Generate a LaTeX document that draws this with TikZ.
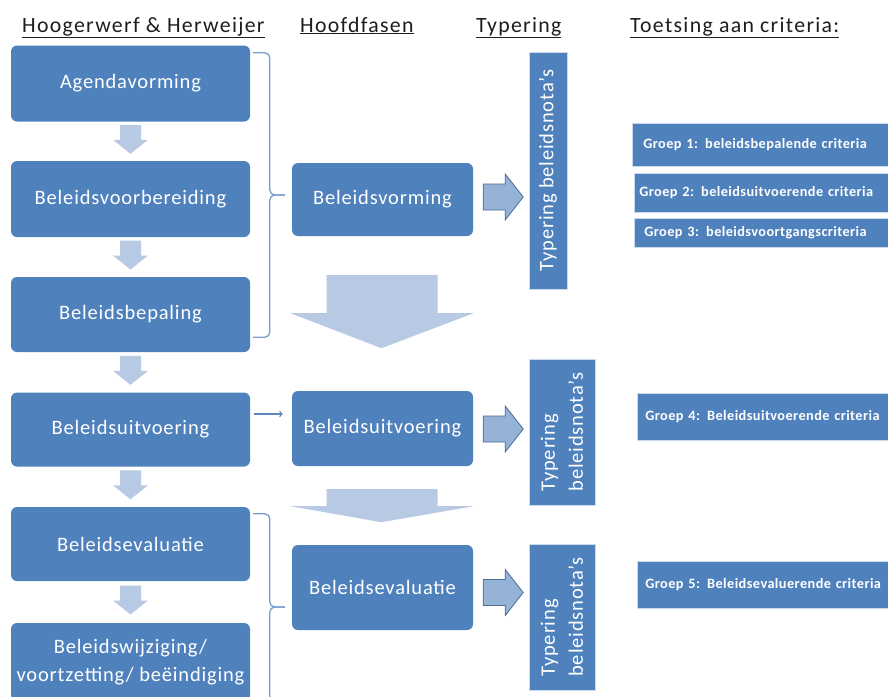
\documentclass[tikz,border=0pt]{standalone}
\usepackage{fontspec}
\setmainfont{Carlito}
\newfontfamily\hdrfam[LetterSpace=6]{Carlito}
\newfontfamily\boxfam[LetterSpace=4]{Carlito}
\newfontfamily\critfam[LetterSpace=3]{Carlito}
\usetikzlibrary{calc}
\definecolor{boxblue}{RGB}{79,129,189}
\definecolor{lightarr}{RGB}{183,201,227}
\definecolor{arrfill}{RGB}{149,179,215}
\definecolor{arrdraw}{RGB}{78,106,150}
\definecolor{brk}{RGB}{120,158,208}
\definecolor{thinarr}{RGB}{95,135,190}
\definecolor{hdrcol}{RGB}{30,30,30}
\newcommand\hdrfont{\hdrfam\fontsize{21.8}{25}\selectfont}
\newcommand\bxfont{\boxfam\fontsize{20.5}{28}\selectfont}
\newcommand\crfont{\critfam\bfseries\fontsize{14.3}{16}\selectfont}
\begin{document}
\begin{tikzpicture}[x=1pt,y=-1pt,
  stage/.style={fill=boxblue, rounded corners=6pt, text=white, align=center,
    font=\bxfont, inner sep=0pt, minimum width=239pt},
  midstage/.style={stage, minimum width=181pt},
  typbox/.style={fill=boxblue, draw=white!70!boxblue, line width=0.6pt, text=white,
    font=\bxfont, inner sep=0pt, rotate=90, align=left},
  crit/.style={fill=boxblue, draw=white!70!boxblue, line width=0.6pt, text=white,
    font=\crfont, anchor=west, text width=262pt, align=left, inner ysep=0pt},
  hdr/.style={anchor=base west, font=\hdrfont, text=hdrcol, inner sep=0pt},
  brace/.style={draw=brk, line width=1.3pt, rounded corners=5pt},
  darr/.pic={\fill[lightarr] (-10.5,-14.5) -- (10.5,-14.5) -- (10.5,0.5) -- (17.5,0.5)
     -- (0,14.5) -- (-17.5,0.5) -- (-10.5,0.5) -- cycle;},
  rarr/.pic={\draw[fill=arrfill, draw=arrdraw, line width=0.8pt, line join=miter]
     (-20,-13) -- (2,-13) -- (2,-23) -- (20,0) -- (2,23) -- (2,13) -- (-20,13) -- cycle;}
]
\clip (0,0) rectangle (888,696);
\fill[white] (0,0) rectangle (888,696);

% headers
\node[hdr] (h1) at (22,32) {\underline{Hoogerwerf \& Herweijer}};
\node[hdr] (h2) at (300,32) {\underline{Hoofdfasen}};
\node[hdr] (h3) at (476,32) {\underline{Typering}};
\node[hdr] (h4) at (630,32) {\underline{Toetsing aan criteria:}};

% left column
\node[stage, minimum height=76pt] (agenda) at (130.5,83.5) {Agendavorming};
\node[stage, minimum height=76pt] (voorb) at (130.5,199) {Beleidsvoorbereiding};
\node[stage, minimum height=75pt] (bepal) at (130.5,314.5) {Beleidsbepaling};
\node[stage, minimum height=74pt] (uitvL) at (130.5,429.5) {Beleidsuitvoering};
\node[stage, minimum height=74pt] (evalL) at (130.5,544) {Beleidsevaluatie};
\node[stage, minimum height=78pt] (wijz) at (130.5,662) {Beleidswijziging/\\voortzetting/ beëindiging};

\pic at ($(agenda.south)!0.5!(voorb.north)+(0,-2)$) {darr};
\pic at ($(voorb.south)!0.5!(bepal.north)+(0,-2)$) {darr};
\pic at ($(bepal.south)!0.5!(uitvL.north)+(0,-2)$) {darr};
\pic at ($(uitvL.south)!0.5!(evalL.north)+(0,-2)$) {darr};
\pic at ($(evalL.south)!0.5!(wijz.north)+(0,-2)$) {darr};

% middle column
\node[midstage, minimum height=73pt] (vorm) at (382.5,199.5) {Beleidsvorming};
\node[midstage, minimum height=75pt] (uitvM) at (382.5,428.5) {Beleidsuitvoering};
\node[midstage, minimum height=85pt] (evalM) at (382.5,587.5) {Beleidsevaluatie};

% braces
\coordinate (b1t) at ($(agenda.north east)+(3,7.5)$);
\coordinate (b1b) at ($(bepal.south east)+(3,-15)$);
\coordinate (b1m) at ($(vorm.west)+(-7,-4.5)$);
\draw[brace] (b1t) -| ($(b1m)+(-15,0)$) -- (b1m);
\draw[brace] (b1b) -| ($(b1m)+(-15,0)$) -- (b1m);
\coordinate (b2t) at ($(evalL.north east)+(3,7)$);
\coordinate (b2b) at ($(wijz.south east)+(3,80)$);
\coordinate (b2m) at ($(evalM.west)+(-7,19.5)$);
\draw[brace] (b2t) -| ($(b2m)+(-15,0)$) -- (b2m);
\draw[brace] (b2b) -| ($(b2m)+(-15,0)$) -- (b2m);

% thin arrow
\draw[draw=thinarr, line width=1.3pt, ->] ($(uitvL.east)+(4,-15.5)$) -- ($(uitvM.west)+(-9,-14.5)$);

% big down arrows
\begin{scope}[shift={(vorm.south)}]
\fill[lightarr] (-56,39) -- (55,39) -- (55,77) -- (91,77) -- (-1,112) -- (-92,77) -- (-56,77) -- cycle;
\end{scope}
\begin{scope}[shift={(uitvM.south)}]
\fill[lightarr] (-56,23) -- (55,23) -- (55,40) -- (91,40) -- (-1,56) -- (-92,40) -- (-56,40) -- cycle;
\end{scope}

% typering
\node[typbox, minimum width=237pt, minimum height=38pt] (typ1) at (548,170.5) {Typering beleidsnota’s};
\node[typbox, minimum width=146pt, minimum height=66pt] (typ2) at (562,432) {Typering\\beleidsnota’s};
\node[typbox, minimum width=146pt, minimum height=66pt] (typ3) at (562,617) {Typering\\beleidsnota’s};

\pic at ($(vorm.east)+(30,-2.5)$) {rarr};
\pic at ($(uitvM.east)+(30,0.5)$) {rarr};
\pic at ($(evalM.east)+(30,5)$) {rarr};

% criteria
\node[crit, minimum height=43pt, inner xsep=11pt] (g1) at (632,144.5) {Groep 1: beleidsbepalende criteria};
\node[crit, minimum height=39pt, inner xsep=5pt] (g2) at (634,192.5) {Groep 2: beleidsuitvoerende criteria};
\node[crit, minimum height=29pt, inner xsep=10pt] (g3) at (634,232.5) {Groep 3: beleidsvoortgangscriteria};
\node[crit, minimum height=47pt, inner xsep=8pt] (g4) at (637,416.5) {Groep 4: Beleidsuitvoerende criteria};
\node[crit, minimum height=47pt, inner xsep=8pt] (g5) at (637,584.5) {Groep 5: Beleidsevaluerende criteria};
\end{tikzpicture}
\end{document}
